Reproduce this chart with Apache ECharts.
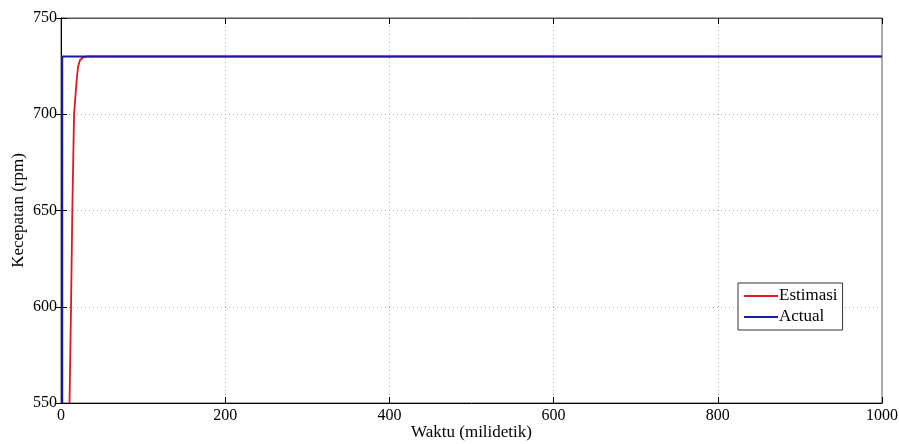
<!DOCTYPE html>
<html>
<head>
<meta charset="utf-8">
<script src="https://cdn.jsdelivr.net/npm/echarts@6/dist/echarts.min.js"></script>
<style>html,body{margin:0;padding:0;background:#fff;}#c{width:899px;height:444px;}</style>
</head>
<body>
<div id="c"></div>
<script>
var estimasiT = [10.4, 12.2, 13.8, 15.9, 19.1, 20.7, 23.2, 26.8, 31.7, 1000];
var estimasiV = [550, 600, 650, 700, 717.8, 724.5, 728.2, 729.5, 730, 730];
var actualT = [1.5, 1.5, 1000];
var actualV = [550, 730, 730];
var xTicks = [0, 200, 400, 600, 800, 1000];
var yTicks = [550, 600, 650, 700, 750];

function pairs(t, v) { return t.map(function (x, i) { return [x, v[i]]; }); }

var font = 'Liberation Serif, Times New Roman, serif';
var chart = echarts.init(document.getElementById('c'));
var gridLine = { show: true, lineStyle: { color: '#b0b0b0', type: [1, 3], width: 1 } };
chart.setOption({
  animation: false,
  backgroundColor: '#fff',
  grid: { left: 61, right: 17, top: 18, bottom: 41, show: true, borderColor: '#555', borderWidth: 1,
    containLabel: false, outerBoundsMode: 'none' },
  legend: {
    orient: 'vertical', left: 738, top: 283,
    backgroundColor: '#fff', borderColor: '#333', borderWidth: 1, borderRadius: 0,
    padding: [4, 5, 4, 6], itemGap: 3, itemWidth: 34, itemHeight: 2,
    icon: 'rect',
    textStyle: { fontFamily: font, fontSize: 17, color: '#000', padding: [0, 0, 0, -4], lineHeight: 18 },
    data: ['Estimasi', 'Actual']
  },
  xAxis: [{
    type: 'value', min: 0, max: 1000, interval: 200,
    name: 'Waktu (milidetik)', nameLocation: 'middle', nameGap: 21, nameMoveOverlap: false,
    nameTextStyle: { fontFamily: font, fontSize: 17, color: '#000' },
    axisLine: { show: true, lineStyle: { color: '#000' } },
    axisTick: { show: true, inside: true, length: 6, lineStyle: { color: '#000' } },
    axisLabel: { fontFamily: font, fontSize: 16, color: '#000', margin: 5,
      formatter: function (v) { return String(v); } },
    splitLine: gridLine
  }, {
    type: 'value', min: 0, max: 1000, interval: 200, position: 'top',
    axisLine: { show: true, lineStyle: { color: '#555' } },
    axisTick: { show: true, inside: true, length: 6, lineStyle: { color: '#000' } },
    axisLabel: { show: false }, splitLine: { show: false }
  }],
  yAxis: [{
    type: 'value', min: 550, max: 750, interval: 50,
    name: 'Kecepatan (rpm)', nameLocation: 'middle', nameGap: 34, nameRotate: 90, nameMoveOverlap: false,
    nameTextStyle: { fontFamily: font, fontSize: 17, color: '#000' },
    axisLine: { show: true, lineStyle: { color: '#000' } },
    axisTick: { show: true, inside: true, length: 6, lineStyle: { color: '#000' } },
    axisLabel: { fontFamily: font, fontSize: 16, color: '#000', margin: 4 },
    splitLine: gridLine
  }, {
    type: 'value', min: 550, max: 750, interval: 50, position: 'right',
    axisLine: { show: true, lineStyle: { color: '#000' } },
    axisTick: { show: true, inside: true, length: 6, lineStyle: { color: '#000' } },
    axisLabel: { show: false }, splitLine: { show: false }
  }],
  series: [{
    name: 'Estimasi', type: 'line', showSymbol: false, symbol: 'none',
    data: pairs(estimasiT, estimasiV), smooth: false,
    lineStyle: { color: '#dc1a20', width: 1.8 }, itemStyle: { color: '#dc1a20' }, z: 2
  }, {
    name: 'Actual', type: 'line', showSymbol: false, symbol: 'none',
    data: pairs(actualT, actualV),
    lineStyle: { color: '#1a1aa8', width: 2 }, itemStyle: { color: '#1a1aa8' }, z: 3
  }]
});
</script>
</body>
</html>
